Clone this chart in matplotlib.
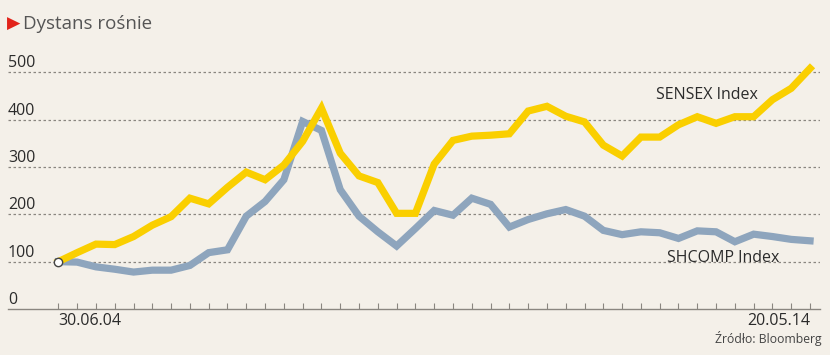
import matplotlib
matplotlib.use("Agg")
import matplotlib.pyplot as plt
import matplotlib.transforms as mtransforms

plt.rcParams['font.family'] = ['Open Sans', 'DejaVu Sans']

# dane kwartalne, indeks = 100 na 30.06.04
sensex = [100, 119, 137, 136, 153, 177, 195, 234, 222, 257,
          289, 273, 304, 354, 424, 329, 281, 267, 202, 202,
          306, 356, 365, 367, 370, 418, 428, 407, 395, 346,
          323, 363, 363, 389, 406, 392, 406, 406, 442, 466,
          508]
shcomp = [100, 99, 89, 84, 78, 82, 82, 92, 119, 125,
          196, 227, 273, 396, 377, 252, 196, 163, 133, 170,
          208, 198, 234, 221, 173, 189, 201, 210, 196, 166,
          157, 163, 161, 149, 165, 163, 142, 158, 153, 147,
          144]
x = list(range(len(sensex)))
xlabels = ["30.06.04"] + [""] * (len(x) - 2) + ["20.05.14"]
yticks = [0, 100, 200, 300, 400, 500]

bg = '#F4F0E9'
yellow = '#FACF00'
blue = '#8EA5BD'
grey = '#8A8680'
txt = '#2B2B2B'

fig = plt.figure(figsize=(8.3, 3.55), dpi=100, facecolor=bg)
ax = fig.add_axes([8 / 830, 46 / 355, 812 / 830, 251 / 355], facecolor=bg)

# linie
ax.plot(x, shcomp, color=blue, lw=5.2, solid_joinstyle='miter', zorder=3)
ax.plot(x, sensex, color=yellow, lw=5.2, solid_joinstyle='miter', zorder=4)
ax.plot(x[0], sensex[0], 'o', ms=6, mfc='white', mec='#444444', mew=1, zorder=5)

ax.set_xlim(-2.68, 40.53)
ax.set_ylim(0, 530)

# siatka
for v in yticks[1:]:
    ax.axhline(v, color=grey, lw=0.9, ls=(0, (2, 2)), zorder=1)
trans = mtransforms.offset_copy(ax.get_yaxis_transform(), fig=fig, y=5, units='dots')
for v in yticks:
    ax.text(0, v, str(v), transform=trans, ha='left', va='baseline',
            fontsize=11.5, color=txt)

for s in ['top', 'right', 'left']:
    ax.spines[s].set_visible(False)
ax.spines['bottom'].set_color(grey)
ax.spines['bottom'].set_linewidth(1)

ax.set_yticks([])
ax.set_xticks(x)
ax.set_xticklabels(xlabels, fontsize=11.5, color=txt)
ax.tick_params(axis='x', direction='in', length=4, width=0.8, color=grey, pad=3)
tl = ax.get_xticklabels()
tl[0].set_ha('left')
tl[-1].set_ha('right')

# podpisy serii
ax.text(31.8, 452, "SENSEX Index", fontsize=11.5, color=txt, va='center', ha='left')
ax.text(32.4, 108, "SHCOMP Index", fontsize=11.5, color=txt, va='center', ha='left')

# tytuł i źródło
fig.text(7 / 830, 1 - 24 / 355, "\u25B6", color='#E2231A', fontsize=12.5, va='center', ha='left',
         family=['DejaVu Sans'])
fig.text(23 / 830, 1 - 24 / 355, "Dystans rośnie", color='#555555', fontsize=13.5,
         va='center', ha='left')
fig.text(822 / 830, 1 - 339 / 355, "Źródło: Bloomberg", color='#444444', fontsize=8.8,
         va='center', ha='right')

fig.savefig("out.png", dpi=100, facecolor=bg)
